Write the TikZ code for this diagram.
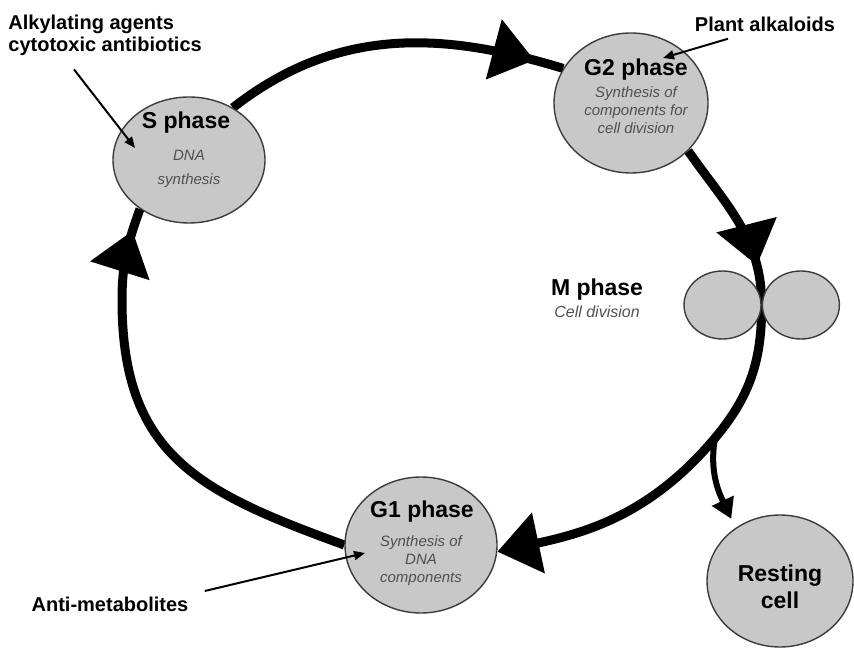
\documentclass[tikz,border=0pt]{standalone}
\usepackage{fontspec}
\setmainfont{Liberation Sans}
\usetikzlibrary{arrows.meta,shapes.geometric,positioning,backgrounds,decorations.markings}
\definecolor{cellgray}{HTML}{C8C8C8}
\definecolor{rimgray}{HTML}{3C3C3C}
\definecolor{notegray}{HTML}{505050}
\tikzset{
  phase/.style={ellipse, fill=cellgray, draw=rimgray, line width=0.7pt, inner sep=0pt},
  title/.style={font=\bfseries\fontsize{11.5}{13.5}\selectfont},
  note/.style={font=\itshape\fontsize{7.5}{9}\selectfont, text=notegray, align=center},
  drug/.style={font=\bfseries\fontsize{10}{11}\selectfont, align=left, inner sep=0pt},
  pointer/.style={line width=1pt, -{Triangle[length=5.5pt,width=4.5pt]}},
  cycleline/.style={line width=4.5pt},
  bigtip/.style={postaction={decorate}, decoration={markings,
      mark=at position #1 with {\arrow{Triangle[length=21pt,width=30pt]}}}}
}

\begin{document}
\begin{tikzpicture}[x=0.5pt, y=0.5pt]
    \useasboundingbox (0,0) rectangle (854,647);

    % phases
    \node[phase, minimum width=76pt, minimum height=63pt] (sph) at (189,487) {};
    \node[title] (stitle) at ([shift={(-1.5pt,18.5pt)}]sph.center) {S phase};
    \node[note, font=\itshape\fontsize{7.5}{12}\selectfont] (snote) at ([yshift=-4.5pt]sph.center) {DNA\\synthesis};

    \node[phase, minimum width=77pt, minimum height=70pt] (g2) at (631,544) {};
    \node[title] (g2title) at ([shift={(2.5pt,16.5pt)}]g2.center) {G2 phase};
    \node[note] (g2note) at ([shift={(2.5pt,-3.5pt)}]g2.center) {Synthesis of\\components for\\cell division};

    \node[phase, minimum width=76pt, minimum height=68pt] (g1) at (421,102) {};
    \node[title] (g1title) at ([shift={(0.5pt,16.5pt)}]g1.center) {G1 phase};
    \node[note] (g1note) at ([yshift=-8pt]g1.center) {Synthesis of\\DNA\\components};

    % dividing cell
    \node[phase, minimum width=38.5pt, minimum height=34pt] (mleft) at (722.5,342) {};
    \node[phase, minimum width=38.5pt, minimum height=34pt, right=0pt of mleft] (mright) {};
    \node[title] (mtitle) at (597,357) {M phase};
    \node[note, font=\itshape\fontsize{8}{9}\selectfont, below=-4.5pt of mtitle] (mnote) {Cell division};

    \node[phase, minimum width=73pt, minimum height=66pt] (rest) at (780,66) {};
    \node[title, align=center] (resttext) at ([yshift=-3pt]rest.center) {Resting\\cell};

    % drugs
    \node[drug, anchor=north west] (alk) at (8,632) {Alkylating agents\\cytotoxic antibiotics};
    \node[drug] (plant) at (765,623) {Plant alkaloids};
    \node[drug] (anti) at (110,43) {Anti-metabolites};

    \coordinate (cyclewest) at (122,347);
    \coordinate (split) at (715,209);

    \begin{scope}[on background layer]
        \draw[cycleline, bigtip=-15pt] (sph.50) to[out=38, in=163] (g2.153);
        \draw[cycleline, bigtip=-20pt] (g2.-40) to[out=-55, in=90] (mleft.east);
        \draw[cycleline, -{Triangle[length=21pt,width=30pt]}] (mleft.east) to[out=-90, in=50] (split)
            to[out=-130, in=12] (g1.-5);
        \draw[cycleline, bigtip=-11.5pt] (g1.180) to[out=160, in=-90, looseness=1.2] (cyclewest)
            to[out=90, in=-110] (sph.225);
        % leaving the cycle
        \draw[line width=3pt, -{Triangle[length=10pt,width=11.5pt]}, shorten >=5pt]
            (split) to[out=-100, in=115] (rest.130);
    \end{scope}

    \draw[pointer] ([shift={(33pt,-6.5pt)}]alk.south west) -- ([shift={(-27pt,6pt)}]sph.center);
    \draw[pointer] ([shift={(-18.5pt,-3.5pt)}]plant.south) -- ([shift={(16pt,22.5pt)}]g2.center);
    \draw[pointer] ([shift={(8pt,6.5pt)}]anti.east) -- ([shift={(-28pt,-4pt)}]g1.center);
\end{tikzpicture}
\end{document}
